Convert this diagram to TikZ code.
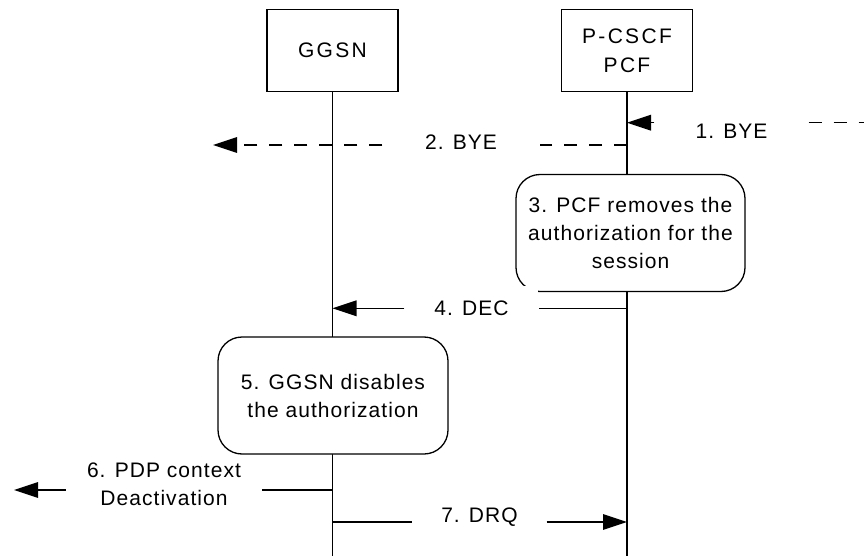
\documentclass[tikz,border=0pt]{standalone}
\usepackage{fontspec}
\usepackage{tikz}
\usetikzlibrary{arrows.meta}
\newfontfamily\diagfont{Liberation Sans}[LetterSpace=5]
\newfontfamily\headfont{Liberation Sans}[LetterSpace=11]
\begin{document}
\begin{tikzpicture}
[x=1pt,y=-1pt,line width=1.3pt,
 every node/.style={font=\diagfont\fontsize{21}{28}\selectfont,inner sep=0pt,align=center},
 entity/.style={draw,fill=white,minimum width=131pt,minimum height=82pt,font=\headfont\fontsize{21}{29}\selectfont},
 stepbox/.style={draw,fill=white,rounded corners=24pt,minimum height=117pt},
 msglabel/.style={fill=white},
 arr/.style={-{Triangle[length=24pt,width=15.6pt]}},
 dsh/.style={dash pattern=on 13pt off 12pt}]
\useasboundingbox (0,0) rectangle (864,556);
\node[entity] (ggsn) at (332.5,50.5) {GGSN};
\node[entity] (pcf) at (627,50.5) {P-CSCF\\PCF};
\coordinate (end) at (0,556);
\draw (ggsn.south) -- (ggsn.south |- end);
\draw (pcf.south) -- (pcf.south |- end);
\coordinate (m1) at (864,122.7);
\node[msglabel,minimum width=153pt] (l1) at (731.5,130.8) {1. BYE};
\draw[dsh] (l1.east |- m1) -- (m1);
\draw[arr] (l1.west |- m1) -- (pcf |- m1);
\coordinate (m2) at (0,145); \coordinate (t2) at (213,145);
\node[msglabel,minimum width=156pt] (l2) at (461,142.5) {2. BYE};
\draw[dsh] (pcf |- m2) -- (l2.east |- m2);
\draw[dsh,arr] (l2.west |- m2) -- (t2);
\node[stepbox,minimum width=229pt] (s3) at (630.5,233) {3. PCF removes the\\authorization for the\\session};
\coordinate (m4) at (0,308.3);
\node[msglabel,minimum width=133pt,minimum height=46pt] (l4) at (471.5,308.5) {4. DEC};
\draw (pcf |- m4) -- (l4.east |- m4);
\draw[arr] (l4.west |- m4) -- (ggsn |- m4);
\node[stepbox,minimum width=230pt] (s5) at (333,395.5) {5. GGSN disables\\the authorization};
\coordinate (m6) at (0,490); \coordinate (t6) at (14,490);
\node[msglabel,minimum width=195pt] (l6) at (164,484.5) {6. PDP context\\Deactivation};
\draw (ggsn |- m6) -- (l6.east |- m6);
\draw[arr] (l6.west |- m6) -- (t6);
\coordinate (m7) at (0,522);
\node[msglabel,minimum width=133pt] (l7) at (479.5,517.5) {7. DRQ};
\draw (ggsn |- m7) -- (l7.west |- m7);
\draw[arr] (l7.east |- m7) -- (pcf |- m7);
\end{tikzpicture}
\end{document}
